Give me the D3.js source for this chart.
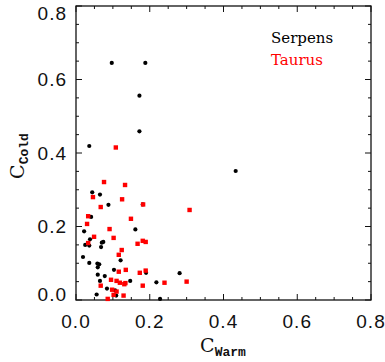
<!DOCTYPE html>
<html>
<head>
<meta charset="utf-8">
<script src="https://cdn.jsdelivr.net/npm/d3@7"></script>
<style>
  body { margin: 0; background: #fff; }
  svg { display: block; }
</style>
</head>
<body>
<div id="chart"></div>
<script>
// Serpens (black dots)
let serpensWarm = [0.097, 0.188, 0.172, 0.172, 0.036, 0.433, 0.044, 0.065, 0.088, 0.181,
    0.041, 0.022, 0.161, 0.038, 0.025, 0.036, 0.070, 0.074, 0.068, 0.019,
    0.121, 0.036, 0.058, 0.063, 0.059, 0.103, 0.190, 0.281, 0.059, 0.078,
    0.065, 0.147, 0.218, 0.084, 0.106, 0.056, 0.109, 0.228]
let serpensCold = [0.645, 0.645, 0.556, 0.459, 0.419, 0.351, 0.293, 0.287, 0.259, 0.260,
    0.226, 0.187, 0.192, 0.165, 0.150, 0.148, 0.156, 0.158, 0.144, 0.117,
    0.108, 0.101, 0.099, 0.097, 0.089, 0.082, 0.074, 0.073, 0.069, 0.065,
    0.052, 0.052, 0.048, 0.031, 0.026, 0.015, 0.012, 0.003]

// Taurus (red squares)
let taurusWarm = [0.108, 0.076, 0.133, 0.046, 0.125, 0.067, 0.182, 0.308, 0.033, 0.149,
    0.030, 0.091, 0.049, 0.102, 0.033, 0.181, 0.189, 0.167, 0.124, 0.116,
    0.135, 0.189, 0.116, 0.173, 0.095, 0.110, 0.119, 0.134, 0.131, 0.240,
    0.300, 0.067, 0.181, 0.098, 0.110, 0.102, 0.129, 0.086]
let taurusCold = [0.415, 0.321, 0.313, 0.280, 0.274, 0.253, 0.260, 0.245, 0.228, 0.221,
    0.207, 0.193, 0.172, 0.169, 0.155, 0.161, 0.158, 0.153, 0.136, 0.123,
    0.082, 0.080, 0.077, 0.074, 0.055, 0.052, 0.047, 0.046, 0.043, 0.047,
    0.050, 0.039, 0.039, 0.028, 0.023, 0.014, 0.012, 0.003]

let majorTicks = [0.0, 0.2, 0.4, 0.6, 0.8]
let minorTicks = [0.05, 0.1, 0.15, 0.25, 0.3, 0.35, 0.45, 0.5, 0.55, 0.65, 0.7, 0.75]
let legendNames = ['Serpens', 'Taurus']
let legendColors = ['black', 'red']

let width = 385
let height = 362
let plotLeft = 76, plotRight = 371, plotTop = 6, plotBottom = 300
let majorLen = 6
let minorLen = 3
let axisColor = '#111'

let svg = d3.select('#chart').append('svg')
    .attr('width', width)
    .attr('height', height)

let x = d3.scaleLinear().domain([0, 0.8]).range([plotLeft, plotRight])
let y = d3.scaleLinear().domain([0, 0.8]).range([plotBottom, plotTop])

// frame
svg.append('rect')
    .attr('x', plotLeft)
    .attr('y', plotTop)
    .attr('width', plotRight - plotLeft)
    .attr('height', plotBottom - plotTop)
    .attr('fill', 'none')
    .attr('stroke', axisColor)
    .attr('stroke-width', 1.3)

// ticks on all four sides, pointing inward
let tickG = svg.append('g')
    .attr('stroke', axisColor)
    .attr('stroke-width', 1)
let allTicks = majorTicks.map(v => [v, majorLen]).concat(minorTicks.map(v => [v, minorLen]))
allTicks.forEach(([v, len]) => {
    tickG.append('line').attr('x1', x(v)).attr('x2', x(v)).attr('y1', plotBottom).attr('y2', plotBottom - len)
    tickG.append('line').attr('x1', x(v)).attr('x2', x(v)).attr('y1', plotTop).attr('y2', plotTop + len)
    tickG.append('line').attr('y1', y(v)).attr('y2', y(v)).attr('x1', plotLeft).attr('x2', plotLeft + len)
    tickG.append('line').attr('y1', y(v)).attr('y2', y(v)).attr('x1', plotRight).attr('x2', plotRight - len)
})

// tick labels
let tickFont = '"Liberation Sans", sans-serif'
svg.append('g').selectAll('text')
    .data(majorTicks)
    .join('text')
    .attr('x', d => x(d))
    .attr('y', 328)
    .attr('text-anchor', 'middle')
    .attr('font-family', tickFont)
    .attr('font-size', 19)
    .attr('letter-spacing', 1)
    .attr('fill', axisColor)
    .text(d => d.toFixed(1))

svg.append('g').selectAll('text')
    .data(majorTicks)
    .join('text')
    .attr('x', 67)
    .attr('y', d => Math.min(Math.max(y(d), 13), 294))
    .attr('dy', '0.36em')
    .attr('text-anchor', 'end')
    .attr('font-family', tickFont)
    .attr('font-size', 19)
    .attr('letter-spacing', 1)
    .attr('fill', axisColor)
    .text(d => d.toFixed(1))

// axis titles
let xTitle = svg.append('text')
    .attr('x', 223)
    .attr('y', 352)
    .attr('text-anchor', 'middle')
    .attr('font-family', '"DejaVu Serif", serif')
    .attr('font-size', 19)
    .attr('fill', axisColor)
xTitle.append('tspan').text('C')
xTitle.append('tspan')
    .attr('dy', 4)
    .attr('font-family', '"Liberation Mono", monospace')
    .attr('font-weight', 'bold')
    .attr('font-size', 13)
    .text('Warm')

let yTitle = svg.append('text')
    .attr('transform', 'translate(24,156) rotate(-90)')
    .attr('text-anchor', 'middle')
    .attr('font-family', '"DejaVu Serif", serif')
    .attr('font-size', 19)
    .attr('fill', axisColor)
yTitle.append('tspan').text('C')
yTitle.append('tspan')
    .attr('dy', 4)
    .attr('font-family', '"Liberation Mono", monospace')
    .attr('font-weight', 'bold')
    .attr('font-size', 13)
    .text('Cold')

// points: black dots first, red squares on top
let serpens = serpensWarm.map((w, i) => ({ w: w, c: serpensCold[i] }))
let taurus = taurusWarm.map((w, i) => ({ w: w, c: taurusCold[i] }))

svg.append('g').selectAll('circle')
    .data(serpens)
    .join('circle')
    .attr('cx', d => x(d.w))
    .attr('cy', d => y(d.c))
    .attr('r', 2.1)
    .attr('fill', 'black')

let sq = 4.4
svg.append('g').selectAll('rect')
    .data(taurus)
    .join('rect')
    .attr('x', d => x(d.w) - sq / 2)
    .attr('y', d => y(d.c) - sq / 2)
    .attr('width', sq)
    .attr('height', sq)
    .attr('fill', 'red')

// legend
svg.append('g').selectAll('text')
    .data(legendNames)
    .join('text')
    .attr('x', 271)
    .attr('y', (d, i) => 43 + i * 22)
    .attr('font-family', '"DejaVu Serif", serif')
    .attr('font-size', 15)
    .attr('fill', (d, i) => legendColors[i])
    .text(d => d)
</script>
</body>
</html>
